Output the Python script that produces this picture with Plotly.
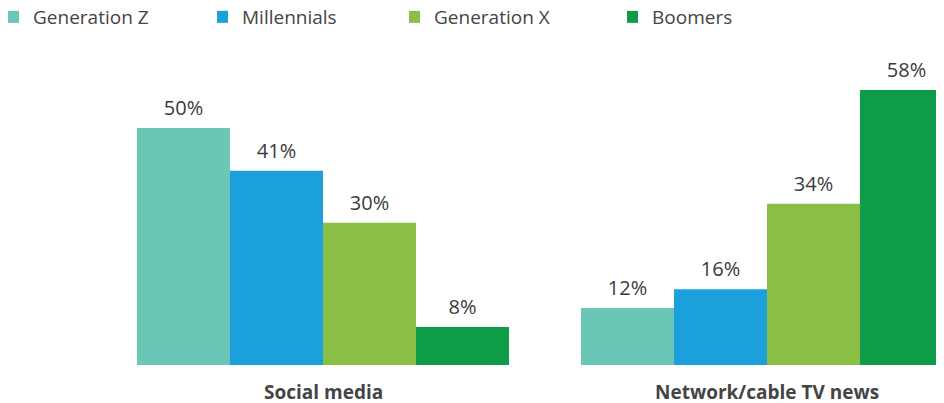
import plotly.graph_objects as go

categories = ["Social media", "Network/cable TV news"]
series_names = ["Generation Z", "Millennials", "Generation X", "Boomers"]
gen_z = [50, 12]
millennials = [41, 16]
gen_x = [30, 34]
boomers = [8, 58]
series_values = [gen_z, millennials, gen_x, boomers]
colors = ["#6CC6B6", "#1BA0DB", "#8BBE44", "#0E9C48"]

W, H = 944, 403
OFF = 8  # page body margin
FONT = "Open Sans"
legend_text_px = [29, 243, 435, 653]  # legend label starts on page

fig = go.Figure()
for i, (name, vals, col) in enumerate(zip(series_names, series_values, colors)):
    lg = "legend" if i == 0 else f"legend{i+1}"
    fig.add_trace(go.Bar(
        x=categories, y=vals, name=name, marker_color=col,
        marker_line_width=0, legend=lg, hoverinfo="skip",
    ))
for i, vals in enumerate(series_values):
    fig.add_trace(go.Scatter(
        x=categories, y=vals, mode="markers+text",
        text=[f"{v}%" for v in vals], textposition="top center",
        textfont=dict(family=FONT, size=20, color="#3a3a3a"),
        marker=dict(size=11, opacity=0), showlegend=False, hoverinfo="skip",
        cliponaxis=False,
    ))

layout_legends = {}
for i, px in enumerate(legend_text_px):
    key = "legend" if i == 0 else f"legend{i+1}"
    layout_legends[key] = dict(
        x=max(0.0, (px - 34) / W), xref="container", xanchor="left",
        y=1 - (17 - OFF) / H, yref="container", yanchor="middle",
        orientation="h", entrywidth=150, entrywidthmode="pixels",
        font=dict(family=FONT, size=19, color="#444444"),
        bgcolor="rgba(0,0,0,0)", borderwidth=0, indentation=-15,
    )

annotations = [
    dict(x=c, y=0, xref="x", yref="y", yanchor="top", yshift=-12,
         text=f"<b>{c}</b>", showarrow=False,
         font=dict(family=FONT, size=19, color="#444444"))
    for c in categories
]

c0 = 323 - OFF
fig.update_layout(
    width=W, height=H,
    margin=dict(l=0, r=0, t=50 - OFF, b=H - (365 - OFF), autoexpand=False),
    paper_bgcolor="white", plot_bgcolor="white",
    barmode="group", bargap=0.162, bargroupgap=0,
    scattermode="group", scattergap=0.162,
    xaxis=dict(type="category", range=[-c0 / 444, (W - c0) / 444], showticklabels=False,
               showgrid=False, zeroline=False, showline=False, ticks="",
               automargin=False),
    yaxis=dict(range=[0, 66.46], visible=False, automargin=False),
    annotations=annotations,
    font=dict(family=FONT),
    **layout_legends,
)

fig.write_html("out.html")
